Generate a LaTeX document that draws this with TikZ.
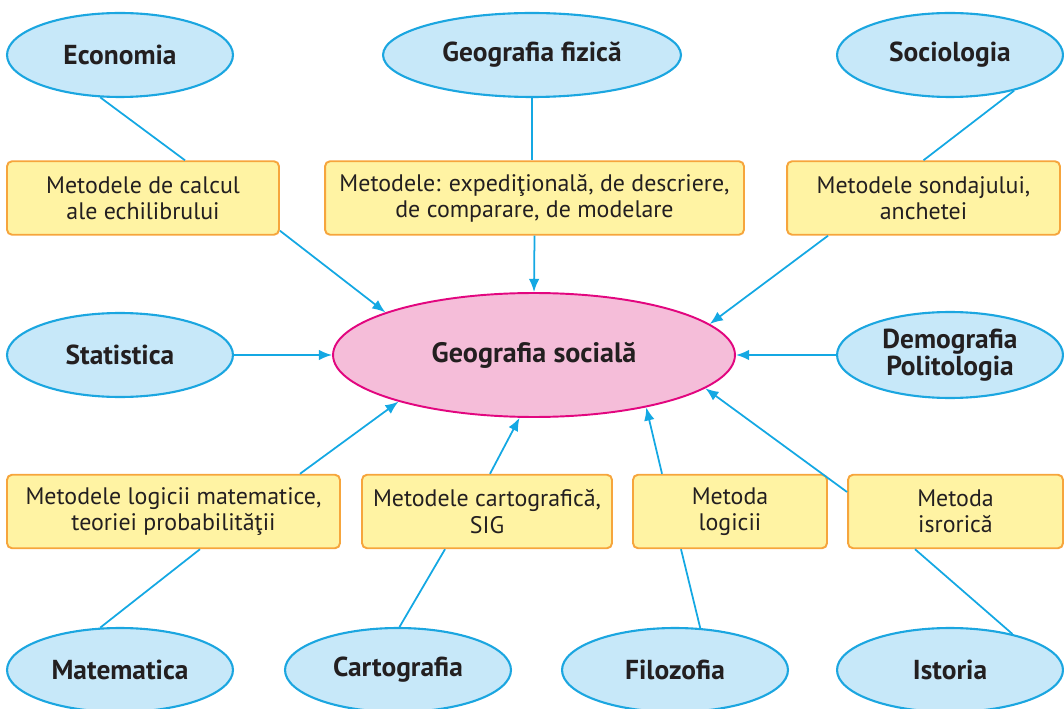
\documentclass[tikz,border=0pt]{standalone}
\usepackage{fontspec}
\setmainfont{PT Sans}
\usetikzlibrary{shapes.geometric, arrows.meta}

\definecolor{fieldfill}{HTML}{C7E8F9}
\definecolor{fieldline}{HTML}{1BA6E0}
\definecolor{corefill}{HTML}{F5BDD9}
\definecolor{coreline}{HTML}{E2067F}
\definecolor{methodfill}{HTML}{FFF3A3}
\definecolor{methodline}{HTML}{F6A53C}
\definecolor{linkblue}{HTML}{14A8E3}
\definecolor{inkdark}{HTML}{231F20}

\begin{document}
\begin{tikzpicture}[x=0.02cm, y=-0.02cm, text=inkdark,
    field/.style={ellipse, draw=fieldline, fill=fieldfill, line width=1.2pt, inner sep=0pt,
        minimum width=4.52cm, minimum height=1.68cm, align=center,
        font=\fontsize{15.6}{15.6}\selectfont\bfseries},
    method/.style={rectangle, rounded corners=0.1cm, draw=methodline, fill=methodfill, line width=1.1pt,
        inner sep=0pt, minimum height=1.47cm, align=center, font=\fontsize{13.6}{14.9}\selectfont},
    link/.style={draw=linkblue, line width=1pt},
    into/.style={link, -{Latex[length=7.5pt, width=6pt]}}]

    \useasboundingbox (0,0) rectangle (1064,709); % page

    % Sciences
    \node[field] (eco) at (120,55) {Economia};
    \node[field, minimum width=5.96cm] (geo) at (532,55) {Geografia fizică};
    \node[field] (soc) at (950,55) {Sociologia};
    \node[field] (stat) at (120,355) {Statistica};
    \node[field, minimum height=1.72cm] (dem) at (950,355) {Demografia\\Politologia};
    \node[field] (mat) at (120,670) {Matematica};
    \node[field] (cart) at (398,670) {Cartografia};
    \node[field] (fil) at (675,670) {Filozofia};
    \node[field] (ist) at (950,670) {Istoria};

    % Centre
    \node[ellipse, draw=coreline, fill=corefill, line width=1.1pt, inner sep=0pt,
        minimum width=8.04cm, minimum height=2.48cm,
        font=\fontsize{16}{16}\selectfont\bfseries] (gs) at (534,355) {Geografia socială};

    % Methods
    \node[method, minimum width=5.44cm] (calc) at (143,198) {Metodele de calcul\\ale echilibrului};
    \node[method, minimum width=8.38cm] (exp) at (534.5,198) {Metodele: expediţională, de descriere,\\de comparare, de modelare};
    \node[method, minimum width=5.46cm] (sond) at (923.5,198) {Metodele sondajului,\\anchetei};
    \node[method, minimum width=6.66cm] (prob) at (173.5,511.5) {Metodele logicii matematice,\\teoriei probabilităţii};
    \node[method, minimum width=5cm] (sig) at (487,511.5) {Metodele cartografică,\\SIG};
    \node[method, minimum width=3.88cm] (logic) at (730,511.5) {Metoda\\logicii};
    \node[method, minimum width=4.3cm] (hist) at (955.5,511.5) {Metoda\\isrorică};

    % Links
    \draw[link] (eco.245) -- ([xshift=0.84cm]calc.north);
    \draw[into] ([yshift=0.1cm]calc.south east) -- (gs.164);
    \draw[link] (geo.south) -- (geo.south |- exp.north);
    \draw[into] (exp.south) -- (gs.north);
    \draw[link] (soc.-29) -- (sond.north);
    \draw[into] ([xshift=-1.91cm]sond.south) -- (gs.10);
    \draw[into] (stat) -- (gs);
    \draw[into] (dem) -- (gs);
    \draw[into] ([xshift=2.53cm]prob.north) -- (gs.199);
    \draw[link] (mat.115) -- ([xshift=0.53cm]prob.south);
    \draw[into] ([xshift=0.06cm]sig.north) -- (gs.257);
    \draw[link] (cart.88) -- ([xshift=-0.84cm]sig.south);
    \draw[into] ([xshift=-1.36cm]logic.north) -- (gs.-25);
    \draw[link] (fil.59) -- ([xshift=-0.98cm]logic.south);
    \draw[into] ([yshift=0.39cm]hist.west) -- (gs.-11);
    \draw[link] (ist.30) -- ([xshift=-0.81cm]hist.south);

\end{tikzpicture}
\end{document}
